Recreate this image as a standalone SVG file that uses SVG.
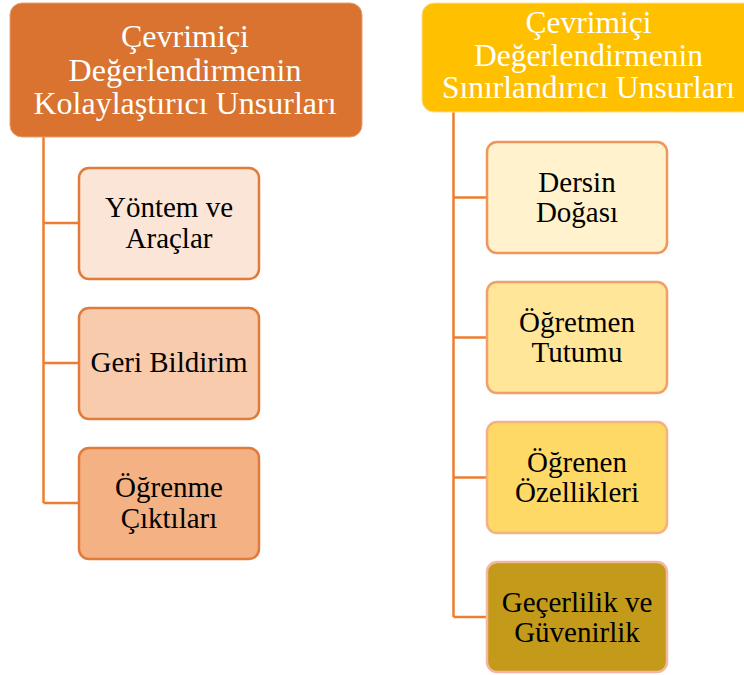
<svg xmlns="http://www.w3.org/2000/svg" width="744" height="675" viewBox="0 0 744 675">
<style>
text{font-family:"Liberation Serif","Times New Roman",serif;text-anchor:middle}
.h{font-size:32px;fill:#ffffff}
.h2{font-size:31.5px;fill:#ffffff}
.t{font-size:29px;fill:#000000}
.c{fill:none;stroke:#ED7D31;stroke-width:2.5}
</style>
<rect width="744" height="675" fill="#ffffff"/>
<g id="connectors">
<path class="c" d="M43.5 137V503M43.5 223H79M43.5 363H79M43.5 503H79"/>
<path class="c" d="M453.5 112V617M453.5 197.5H487M453.5 337.5H487M453.5 477.5H487M453.5 617H487"/>
</g>
<g id="header-left">
<rect x="10" y="3" width="352" height="134" rx="12" fill="#D9732F" stroke="#E9A070" stroke-width="1"/>
<text class="h" x="185" y="47">Çevrimiçi</text>
<text class="h" x="185" y="80.5">Değerlendirmenin</text>
<text class="h" x="185" y="113.5">Kolaylaştırıcı Unsurları</text>
</g>
<g id="header-right">
<rect x="422" y="3" width="340" height="109" rx="12" fill="#FFC000" stroke="#FFE08A" stroke-width="1"/>
<text class="h2" x="588.5" y="33">Çevrimiçi</text>
<text class="h2" x="588.5" y="65.5">Değerlendirmenin</text>
<text class="h2" x="588.5" y="98">Sınırlandırıcı Unsurları</text>
</g>
<g id="yontem">
<rect x="79" y="168" width="180" height="111" rx="10" fill="#FBE5D6" stroke="#E07B39" stroke-width="2.5"/>
<text class="t" x="169" y="217">Yöntem ve</text>
<text class="t" x="169" y="248">Araçlar</text>
</g>
<g id="geri">
<rect x="79" y="308" width="180" height="111" rx="10" fill="#F8CBAD" stroke="#E07B39" stroke-width="2.5"/>
<text class="t" x="169" y="372">Geri Bildirim</text>
</g>
<g id="ogrenme">
<rect x="79" y="448" width="180" height="111" rx="10" fill="#F4B183" stroke="#E07B39" stroke-width="2.5"/>
<text class="t" x="169" y="497">Öğrenme</text>
<text class="t" x="169" y="528">Çıktıları</text>
</g>
<g id="dersin">
<rect x="487" y="142" width="180" height="111" rx="10" fill="#FFF2CC" stroke="#F0965A" stroke-width="2.5"/>
<text class="t" x="577" y="192">Dersin</text>
<text class="t" x="577" y="222">Doğası</text>
</g>
<g id="ogretmen">
<rect x="487" y="282" width="180" height="111" rx="10" fill="#FFE699" stroke="#F0A068" stroke-width="2.5"/>
<text class="t" x="577" y="332">Öğretmen</text>
<text class="t" x="577" y="362">Tutumu</text>
</g>
<g id="ogrenen">
<rect x="487" y="422" width="180" height="111" rx="10" fill="#FFD966" stroke="#F4B183" stroke-width="2.5"/>
<text class="t" x="577" y="472">Öğrenen</text>
<text class="t" x="577" y="502">Özellikleri</text>
</g>
<g id="gecerlilik">
<rect x="487" y="562" width="180" height="110" rx="10" fill="#C49A1A" stroke="#F4B8A0" stroke-width="2.5"/>
<text class="t" x="577" y="612">Geçerlilik ve</text>
<text class="t" x="577" y="642">Güvenirlik</text>
</g>
</svg>
